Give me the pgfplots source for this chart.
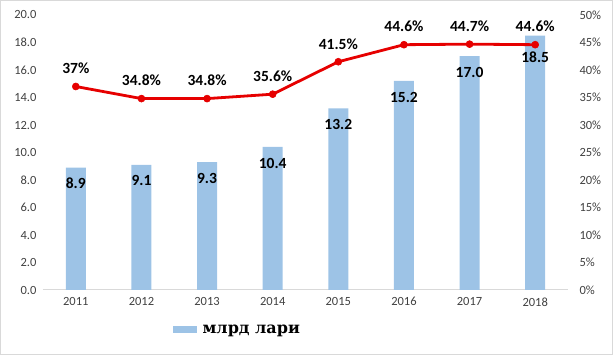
\documentclass[border=0pt]{standalone}
\usepackage{pgfplots}
\pgfplotsset{compat=1.18}
\usepackage{pgfplotstable}
\usepackage{fontspec}
\setmainfont{Carlito}
\newfontfamily\legfont{DejaVu Serif}
\definecolor{barblue}{HTML}{9DC3E6}
\definecolor{linered}{HTML}{E60000}
\definecolor{axgray}{HTML}{D9D9D9}
\definecolor{ticktext}{HTML}{404040}
\pgfkeys{/pgf/number format/assume math mode=true}

\pgfplotstableread{
x y off
0 8.9 -16
1 9.1 -16
2 9.3 -16
3 10.4 -16
4 13.2 -16
5 15.2 -16
6 17.0 -16
7 18.5 -22
}\bars

\pgfplotstableread{
x y lab
0 37.0 37
1 34.8 34.8
2 34.8 34.8
3 35.6 35.6
4 41.5 41.5
5 44.6 44.6
6 44.7 44.7
7 44.6 44.6
}\share

\begin{document}
\begin{tikzpicture}[x=1pt,y=1pt]
\draw[axgray, line width=1pt] (0.5,0.5) rectangle (612.5,354.5);
\useasboundingbox (0,0) rectangle (613,355);
\begin{axis}[
  at={(43pt,65pt)}, anchor=south west,
  scale only axis, width=525pt, height=275pt,
  xmin=-0.5, xmax=7.5, ymin=0, ymax=20,
  axis x line*=bottom, axis y line*=left,
  x axis line style={axgray, line width=1pt, -},
  y axis line style={draw=none},
  major tick length=0pt,
  xtick={0,...,7},
  xticklabels={2011,2012,2013,2014,2015,2016,2017,2018},
  ytick={0,2,...,20},
  yticklabel={\pgfmathprintnumber[fixed,fixed zerofill,precision=1,assume math mode=true]{\tick}},
  tick label style={font=\fontsize{12.5}{12.5}\selectfont, text=ticktext},
  yticklabel style={xshift=-3pt},
  xticklabel style={yshift=-4pt},
  legend style={at={(axis description cs:0.37,-0.145)}, anchor=center, draw=none, fill=none,
    font=\legfont\bfseries\fontsize{16}{16}\selectfont},
  legend image code/.code={\fill[barblue] (0pt,-3.5pt) rectangle (24pt,3.5pt);},
]
\addplot[ybar, bar width=20pt, fill=barblue, draw=none,
  nodes near coords={\pgfmathprintnumber[fixed,fixed zerofill,precision=1,assume math mode=true]{\pgfplotspointmeta}},
  visualization depends on={\thisrow{off} \as \off},
  every node near coord/.append style={anchor=center, yshift=\off pt, text=black,
    font=\bfseries\fontsize{15.5}{15.5}\selectfont}]
  table[x=x,y=y]{\bars};
\addlegendentry{\hspace{4pt}млрд лари}
\end{axis}
\begin{axis}[
  at={(43pt,65pt)}, anchor=south west,
  scale only axis, width=525pt, height=275pt,
  xmin=-0.5, xmax=7.5, ymin=0, ymax=50,
  axis x line=none, axis y line*=right,
  y axis line style={draw=none},
  major tick length=0pt,
  ytick={0,5,...,50},
  yticklabel={\pgfmathprintnumber[assume math mode=true]{\tick}\%},
  yticklabel style={anchor=west, xshift=8pt, font=\fontsize{12.5}{12.5}\selectfont, text=ticktext},
]
\addplot[linered, line width=2.8pt, line join=round, mark=*, mark size=3.5pt,
  mark options={solid, fill=linered, draw=linered, line width=0.6pt},
  point meta=explicit symbolic,
  nodes near coords={\pgfplotspointmeta\%},
  every node near coord/.append style={anchor=center, yshift=18pt, text=black,
    font=\bfseries\fontsize{15.5}{15.5}\selectfont}]
  table[x=x,y=y,meta=lab]{\share};
\end{axis}
\end{tikzpicture}
\end{document}
